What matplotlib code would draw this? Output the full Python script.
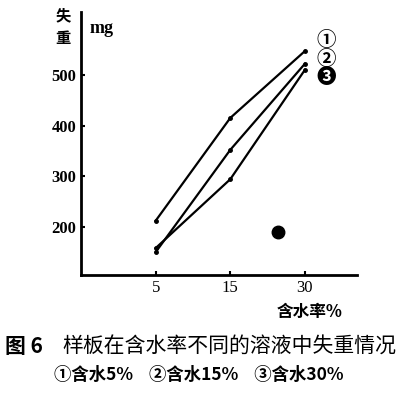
import numpy as np
import matplotlib.pyplot as plt

plt.rcParams['font.family'] = ['Noto Sans CJK SC', 'DejaVu Sans']

# water content categories (x axis) and weight loss values in mg
water_pct = ["5", "15", "30"]
loss_5 = [212, 415, 547]
loss_15 = [150, 352, 522]
loss_30 = [158, 294, 510]
curve_marks = ["①", "②", "❸"]
y_ticks = [200, 300, 400, 500]

fig = plt.figure(figsize=(4.02, 3.96), dpi=100)
ax = fig.add_axes([0.2015, 0.3056, 0.687, 0.664])

xpos = np.arange(len(water_pct))
for vals in [loss_5, loss_15, loss_30]:
    ax.plot(xpos, vals, color="black", lw=1.6, marker="o", ms=2.5)

# curve labels at right end
for i, mark in enumerate(curve_marks):
    ax.text(2.16, 567 - i * 36, mark, fontsize=14, fontweight="bold",
            ha="left", va="center", family=['Noto Sans CJK SC', 'DejaVu Sans'])

# stray black dot
ax.plot([1.64], [190], "o", color="black", ms=9)

ax.set_xlim(-1.0, 2.7)
ax.set_ylim(105, 624)
ax.set_xticks(xpos)
ax.set_xticklabels(water_pct, family="Liberation Serif", fontsize=12)
ax.set_yticks(y_ticks)
ax.set_yticklabels([str(v) for v in y_ticks], family="Liberation Serif",
                   fontsize=12, fontweight="bold")
ax.tick_params(direction="in", length=3, width=1.5)
for s in ["top", "right"]:
    ax.spines[s].set_visible(False)
for s in ["left", "bottom"]:
    ax.spines[s].set_linewidth(2)

fig.text(0.157, 0.962, "失", fontsize=11, fontweight="bold", ha="center", va="center")
fig.text(0.157, 0.904, "重", fontsize=11, fontweight="bold", ha="center", va="center")
fig.text(0.252, 0.928, "mg", fontsize=13, fontweight="bold", family="Liberation Serif",
         ha="center", va="center")
fig.text(0.77, 0.212, "含水率%", fontsize=12, fontweight="bold", ha="center", va="center")

fig.text(0.012, 0.124, "图 6", fontsize=15, fontweight="bold", ha="left", va="center")
fig.text(0.985, 0.124, "样板在含水率不同的溶液中失重情况", fontsize=15,
         ha="right", va="center")
fig.text(0.495, 0.053, "①含水5%    ②含水15%    ③含水30%", fontsize=12.5,
         fontweight="bold", ha="center", va="center")

fig.savefig("out.png", dpi=100)
